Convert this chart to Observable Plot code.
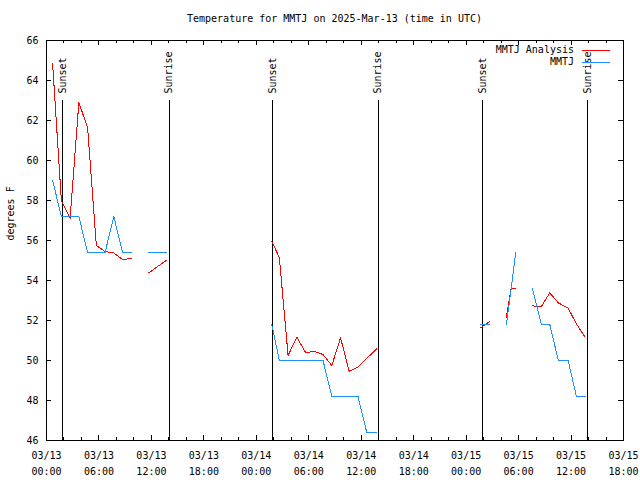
<!DOCTYPE html>
<html>
<head>
<meta charset="utf-8">
<script src="https://cdn.jsdelivr.net/npm/d3@7"></script>
<script src="https://cdn.jsdelivr.net/npm/@observablehq/plot@0.6"></script>
<style>
  body { margin: 0; background: #fff; color: #000; font-family: "DejaVu Sans Mono", monospace; font-size: 10px; }
  #wrap { position: relative; width: 640px; height: 480px; }
  #title { box-sizing: border-box; height: 30px; padding-top: 13px; padding-left: 46px; width: 623px; line-height: 12px; text-align: center; white-space: pre; }
  #legend { position: absolute; right: 30px; top: 44px; text-align: right; line-height: 12px; }
  #legend .sw { display: inline-block; width: 28px; height: 0; margin-left: 8px; vertical-align: middle; border-top: 1px solid; }
  svg { display: block; }
  svg path, svg line, svg rect { shape-rendering: crispEdges; }
</style>
</head>
<body>
<div id="wrap">
  <div id="title"></div>
  <div id="chart"></div>
  <div id="legend"></div>
</div>
<script>
const titleText = "Temperature for MMTJ on 2025-Mar-13 (time in UTC)";
const yLabel = "degrees F";

const seriesNames = ["MMTJ Analysis", "MMTJ"];
const seriesColors = ["#ff0000", "#1e90ff"];

// observation times (UTC); NaN values mark missing reports (line breaks)
const times = [
  "2025-03-13T00:42Z","2025-03-13T01:42Z","2025-03-13T02:42Z","2025-03-13T03:42Z","2025-03-13T04:42Z",
  "2025-03-13T05:42Z","2025-03-13T06:42Z","2025-03-13T07:42Z","2025-03-13T08:42Z","2025-03-13T09:42Z",
  "2025-03-13T10:42Z","2025-03-13T11:42Z","2025-03-13T12:42Z","2025-03-13T13:42Z","2025-03-13T14:42Z",
  "2025-03-14T01:46Z","2025-03-14T02:38Z","2025-03-14T03:38Z","2025-03-14T04:38Z","2025-03-14T05:38Z",
  "2025-03-14T06:38Z","2025-03-14T07:38Z","2025-03-14T08:38Z","2025-03-14T09:38Z","2025-03-14T10:38Z",
  "2025-03-14T11:38Z","2025-03-14T12:38Z","2025-03-14T13:45Z","2025-03-14T14:38Z",
  "2025-03-15T01:38Z","2025-03-15T02:41Z","2025-03-15T03:40Z","2025-03-15T04:36Z","2025-03-15T05:09Z",
  "2025-03-15T05:40Z","2025-03-15T06:40Z","2025-03-15T07:34Z","2025-03-15T08:36Z","2025-03-15T09:34Z",
  "2025-03-15T10:33Z","2025-03-15T11:40Z","2025-03-15T12:37Z","2025-03-15T13:36Z"
];
const analysisTemps = [
  64.85, 58.0, 57.1, 62.9, 61.65,
  55.75, 55.45, 55.38, 55.05, 55.1,
  NaN, 54.38, 54.7, 55.0, NaN,
  55.95, 55.15, 50.25, 51.17, 50.4,
  50.45, 50.3, 49.75, 51.13, 49.45,
  49.67, 50.1, 50.58, NaN,
  51.63, 51.95, NaN, 52.17, 53.6,
  53.6, NaN, 52.73, 52.7, 53.38,
  52.88, 52.62, 51.83, 51.17
];
const obsTemps = [
  59.0, 57.2, 57.2, 57.2, 55.4,
  55.4, 55.4, 57.2, 55.4, 55.4,
  NaN, 55.4, 55.4, 55.4, NaN,
  51.8, 50.0, 50.0, 50.0, 50.0,
  50.0, 50.0, 48.2, 48.2, 48.2,
  48.2, 46.4, 46.4, NaN,
  51.8, 51.8, NaN, 51.8, 53.6,
  55.4, NaN, 53.6, 51.8, 51.8,
  50.0, 50.0, 48.2, 48.2
];

const sunsetTimes = ["2025-03-13T01:50Z", "2025-03-14T01:54Z", "2025-03-15T01:55Z"];
const sunriseTimes = ["2025-03-13T14:01Z", "2025-03-14T13:56Z", "2025-03-15T13:56Z"];

const xTickTimes = [
  "2025-03-13T00:00Z","2025-03-13T06:00Z","2025-03-13T12:00Z","2025-03-13T18:00Z",
  "2025-03-14T00:00Z","2025-03-14T06:00Z","2025-03-14T12:00Z","2025-03-14T18:00Z",
  "2025-03-15T00:00Z","2025-03-15T06:00Z","2025-03-15T12:00Z","2025-03-15T18:00Z"
];
const yTicks = [46, 48, 50, 52, 54, 56, 58, 60, 62, 64, 66];

// ---- build tables ----
const rows = times.map((t, i) => ({time: new Date(t), analysis: analysisTemps[i], obs: obsTemps[i]}));
const events = [
  ...sunsetTimes.map(t => ({time: new Date(t), label: "Sunset"})),
  ...sunriseTimes.map(t => ({time: new Date(t), label: "Sunrise"}))
];
const majorTicks = xTickTimes.map(t => new Date(t));
const xDomain = [majorTicks[0], majorTicks[majorTicks.length - 1]];
const minorTicks = d3.utcHour.every(2).range(xDomain[0], new Date(+xDomain[1] + 1));

const W = 640, H = 450, mT = 10, mB = 40, mL = 46, mR = 17;
const plotW = W - mL - mR, plotH = H - mT - mB;
const fmt = d3.utcFormat("%m/%d\n%H:%M");

document.getElementById("title").textContent = titleText;

const chart = Plot.plot({
  width: W, height: H,
  marginTop: mT, marginBottom: mB, marginLeft: mL, marginRight: mR,
  style: {fontFamily: "DejaVu Sans Mono", fontSize: "10px", background: "#fff", color: "#000", overflow: "visible"},
  x: {type: "utc", domain: xDomain},
  y: {domain: [46, 66]},
  marks: [
    Plot.ruleX(events, {x: "time", y1: 46, y2: 63.0, stroke: "#000", strokeWidth: 1}),
    Plot.text(events, {x: "time", y: 63.35, text: "label", rotate: -90, textAnchor: "start", fill: "#000"}),
    Plot.line(rows, {x: "time", y: "analysis", stroke: seriesColors[0], strokeWidth: 1}),
    Plot.line(rows, {x: "time", y: "obs", stroke: seriesColors[1], strokeWidth: 1}),
    // inward ticks, mirrored on all four sides
    Plot.tickX(minorTicks, {x: d => d, insetTop: plotH - 3, stroke: "#000"}),
    Plot.tickX(minorTicks, {x: d => d, insetBottom: plotH - 3, stroke: "#000"}),
    Plot.tickX(majorTicks, {x: d => d, insetTop: plotH - 5, stroke: "#000"}),
    Plot.tickX(majorTicks, {x: d => d, insetBottom: plotH - 5, stroke: "#000"}),
    Plot.tickY(yTicks, {y: d => d, insetRight: plotW - 5, stroke: "#000"}),
    Plot.tickY(yTicks, {y: d => d, insetLeft: plotW - 5, stroke: "#000"}),
    Plot.axisX({ticks: majorTicks, tickFormat: fmt, tickSize: 0, tickPadding: 7, lineHeight: 1.6, label: null, fill: "#000"}),
    Plot.axisY({ticks: yTicks, tickSize: 0, tickPadding: 8, label: null, fill: "#000"}),
    Plot.text([yLabel], {frameAnchor: "left", dx: -36, rotate: -90, fill: "#000"}),
    Plot.frame({stroke: "#000", strokeWidth: 1})
  ]
});
document.getElementById("chart").append(chart);

const legend = document.getElementById("legend");
seriesNames.forEach((name, i) => {
  const row = document.createElement("div");
  const label = document.createElement("span");
  label.textContent = name;
  const sw = document.createElement("span");
  sw.className = "sw";
  sw.style.borderTopColor = seriesColors[i];
  row.append(label, sw);
  legend.append(row);
});
</script>
</body>
</html>
